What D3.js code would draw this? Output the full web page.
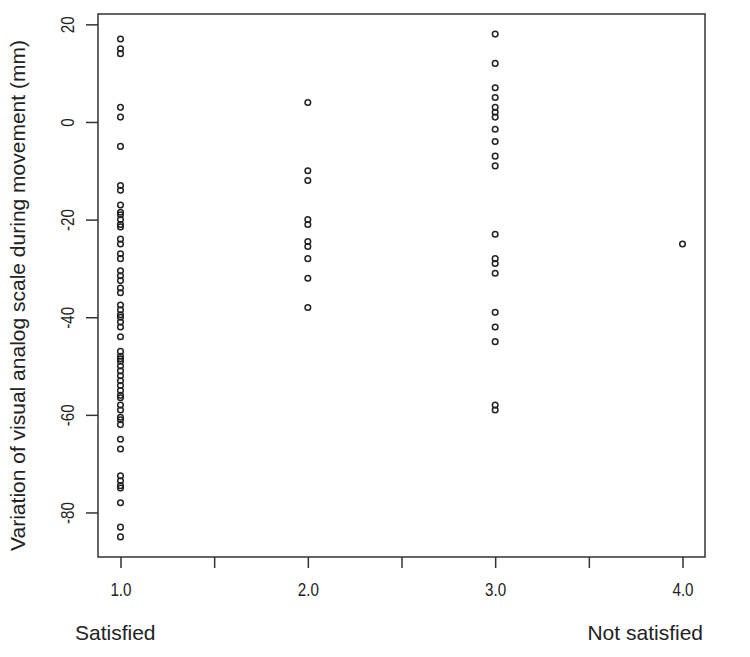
<!DOCTYPE html>
<html>
<head>
<meta charset="utf-8">
<script src="https://cdn.jsdelivr.net/npm/d3@7"></script>
<style>
  body { margin: 0; background: #fff; }
  svg { display: block; }
  text { font-family: "Liberation Sans", Arial, sans-serif; fill: #222; }
</style>
</head>
<body>
<div id="chart"></div>
<script>
// satisfaction score (x) -> VAS change values (y)
var groups = [1, 2, 3, 4];
var vas1 = [17, 15, 14, 3, 1, -5, -13, -14, -17, -18.5, -19, -20, -21, -21.5, -24, -25,
            -27, -28, -30.5, -31.5, -32.5, -34, -35, -37.5, -38.5, -39.5, -40, -41, -42,
            -44, -47, -48, -48.5, -49, -50, -51, -52, -53, -54, -55, -56, -56.5, -58, -59,
            -60.5, -61, -62, -65, -67, -72.5, -73.5, -74.5, -75, -78, -83, -85];
var vas2 = [4, -10, -12, -20, -21, -24.5, -25.5, -28, -32, -38];
var vas3 = [18, 12, 7, 5, 3, 2, 1, -1.5, -4, -7, -9, -23, -28, -29, -31, -39, -42, -45, -58, -59];
var vas4 = [-25];
var xTicks = [1, 1.5, 2, 2.5, 3, 3.5, 4];
var xTickLabels = ["1.0", "", "2.0", "", "3.0", "", "4.0"];
var yTicks = [-80, -60, -40, -20, 0, 20];
var yLabel = "Variation of visual analog scale during movement (mm)";
var leftNote = "Satisfied", rightNote = "Not satisfied";

var W = 750, H = 657;
var box = {left: 98, top: 14, right: 705, bottom: 557};

var svg = d3.select("#chart").append("svg").attr("width", W).attr("height", H);

// R style 4% padding on both axes
var x = d3.scaleLinear().domain([0.88, 4.12]).range([box.left, box.right]);
var y = d3.scaleLinear().domain([-89.12, 22.12]).range([box.bottom, box.top]);

var points = [];
[vas1, vas2, vas3, vas4].forEach(function(vals, i) {
    vals.forEach(function(v) { points.push({g: groups[i], v: v}); });
});

svg.append("g")
    .selectAll("circle")
    .data(points)
    .enter()
    .append("circle")
    .attr("cx", function(d) { return x(d.g); })
    .attr("cy", function(d) { return y(d.v); })
    .attr("r", 2.8)
    .style("fill", "none")
    .style("stroke", "#222")
    .style("stroke-width", 1.5);

// frame
svg.append("rect")
    .attr("x", box.left).attr("y", box.top)
    .attr("width", box.right - box.left).attr("height", box.bottom - box.top)
    .style("fill", "none").style("stroke", "#333").style("stroke-width", 1.5);

var xAxis = svg.append("g")
    .attr("transform", "translate(0," + box.bottom + ")")
    .call(d3.axisBottom(x).tickValues(xTicks).tickSize(11).tickPadding(15)
        .tickFormat(function(d, i) { return xTickLabels[i]; }));
xAxis.select(".domain").remove();
xAxis.selectAll("line").style("stroke", "#333").style("stroke-width", 1.5);
xAxis.selectAll("text")
    .attr("transform", "scale(0.8,1)")
    .style("font-size", "19px").style("fill", "#222")
    .style("font-family", "'Liberation Sans', Arial, sans-serif");

var yAxis = svg.append("g")
    .attr("transform", "translate(" + box.left + ",0)")
    .call(d3.axisLeft(y).tickValues(yTicks).tickSize(12)
        .tickFormat(function(d) { return String(d); }));
yAxis.select(".domain").remove();
yAxis.selectAll("line").style("stroke", "#333").style("stroke-width", 1.5);
yAxis.selectAll("text")
    .attr("x", 0).attr("dy", 0).attr("y", -24)
    .attr("transform", "rotate(-90) scale(0.8,1)")
    .attr("text-anchor", "middle")
    .style("font-size", "19px").style("fill", "#222")
    .style("font-family", "'Liberation Sans', Arial, sans-serif");

svg.append("text")
    .attr("transform", "translate(25," + ((box.top + box.bottom) / 2 + 10) + ") rotate(-90)")
    .attr("text-anchor", "middle")
    .style("font-size", "21px")
    .text(yLabel);

svg.append("text")
    .attr("x", 75).attr("y", 640)
    .style("font-size", "21px")
    .text(leftNote);
svg.append("text")
    .attr("x", 703).attr("y", 640)
    .attr("text-anchor", "end")
    .style("font-size", "21px")
    .text(rightNote);
</script>
</body>
</html>
